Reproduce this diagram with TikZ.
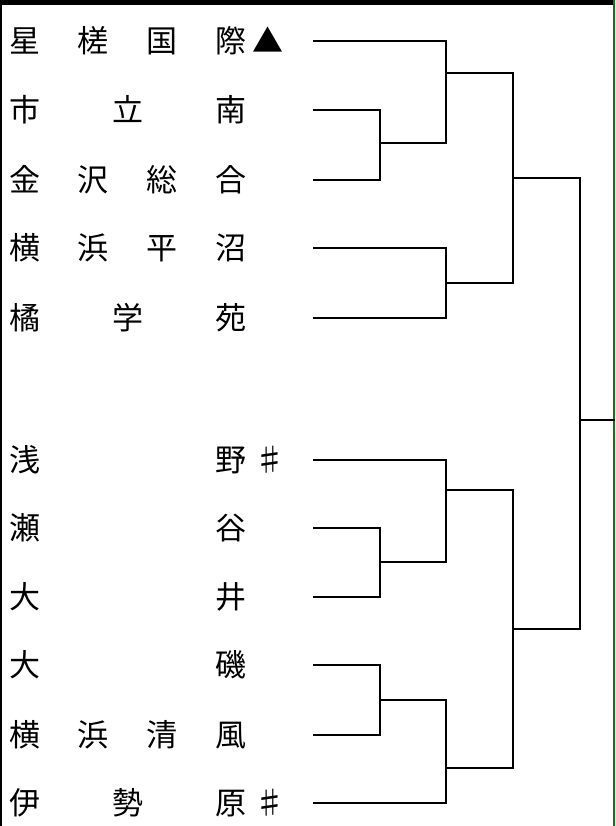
\documentclass[tikz,border=0pt]{standalone}
\usepackage{fontspec}
\setmainfont{Noto Sans CJK JP}
\usetikzlibrary{positioning}
\tikzset{team/.style={anchor=west, inner sep=0pt, font=\fontsize{31}{32}\selectfont},
  line/.style={line width=2pt, line join=miter}}
\newcommand{\tname}[1]{\makebox[237pt]{#1}}

\begin{document}
\begin{tikzpicture}[x=1pt,y=-1pt]
    \useasboundingbox (0,0) rectangle (615,826);
    % frame
    \fill[black] (0,0) rectangle (615,5);
    \draw[line width=2pt] (1,0) -- (1,826);
    \draw[line width=2pt, green!50!black] (614,0) -- (614,826);

    % teams
    \node[team] (t1) at (9,41) {\tname{星\hfill{}槎\hfill{}国\hfill{}際}\hspace{6pt}▲};
    \node[team] (t2) at (9,110) {\tname{市\hfill{}立\hfill{}南}};
    \node[team] (t3) at (9,180) {\tname{金\hfill{}沢\hfill{}総\hfill{}合}};
    \node[team] (t4) at (9,248) {\tname{横\hfill{}浜\hfill{}平\hfill{}沼}};
    \node[team] (t5) at (9,318) {\tname{橘\hfill{}学\hfill{}苑}};
    \node[team] (t6) at (9,460) {\tname{浅\hfill{}野}\hspace{8pt}♯};
    \node[team] (t7) at (9,528) {\tname{瀬\hfill{}谷}};
    \node[team] (t8) at (9,597) {\tname{大\hfill{}井}};
    \node[team] (t9) at (9,665) {\tname{大\hfill{}磯}};
    \node[team] (t10) at (9,735) {\tname{横\hfill{}浜\hfill{}清\hfill{}風}};
    \node[team] (t11) at (9,803) {\tname{伊\hfill{}勢\hfill{}原}\hspace{8pt}♯};

    % bracket
    \draw[line] (t1.west) ++(304,0) -- ++(133,0) |- (446,143) -| (380,110) -- (313,110);
    \draw[line] (t3.west) ++(304,0) -| (380,143);
    \draw[line] (446,73) -| (513,283) -- (446,283) |- (313,248);
    \draw[line] (t5.west) ++(304,0) -| (446,283);
    \draw[line] (513,178) -| (580,629) -- (513,629);
    \draw[line] (580,420) -- (615,420);
    \draw[line] (t6.west) ++(304,0) -| (446,562) -| (380,528) -- (313,528);
    \draw[line] (t8.west) ++(304,0) -| (380,562);
    \draw[line] (446,490) -| (513,768) -- (446,768);
    \draw[line] (t9.west) ++(304,0) -| (380,735) -- (313,735);
    \draw[line] (380,700) -| (446,803) -- (313,803);
\end{tikzpicture}
\end{document}
